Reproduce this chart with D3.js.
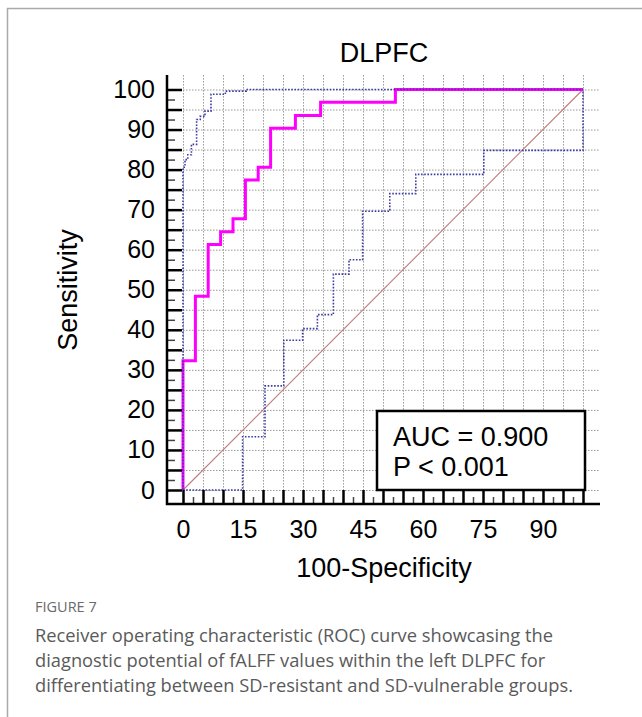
<!DOCTYPE html>
<html>
<head>
<meta charset="utf-8">
<script src="https://cdn.jsdelivr.net/npm/d3@7"></script>
<style>
  body { margin: 0; background: #fff; }
  svg text { font-family: "Liberation Sans", Arial, sans-serif; }
  .caption { font-family: "Open Sans", "Noto Sans", sans-serif; fill: #5a5a5a; }
</style>
</head>
<body>
<div id="chart-container"></div>
<script>
// ROC curve corners (100-specificity, sensitivity), drawn as step-before
const rocFpr = [0, 3.1, 6.3, 9.4, 12.5, 15.6, 18.8, 21.9, 28.1, 34.4, 53.1, 100];
const rocTpr = [0, 32.3, 48.4, 61.3, 64.5, 67.7, 77.4, 80.6, 90.3, 93.5, 96.8, 100];

// upper confidence bound
const upperFpr = [0, 0.5, 1.2, 2.1, 3.4, 4.3, 5.5, 7.0, 10.6, 15.8, 100];
const upperTpr = [0, 80.6, 82.5, 83.7, 86.3, 92.5, 93.3, 94.6, 98.8, 99.6, 100];

// lower confidence bound
const lowerFpr = [0, 14.9, 20.5, 25.2, 29.9, 33.6, 37.6, 41.5, 44.9, 51.7, 58.2, 75.2, 100, 100];
const lowerTpr = [0, 0, 13.3, 26.0, 37.4, 40.3, 43.8, 53.9, 57.5, 69.6, 74.0, 78.8, 84.8, 100];

const xLabels = [0, 15, 30, 45, 60, 75, 90];
const yLabels = [0, 10, 20, 30, 40, 50, 60, 70, 80, 90, 100];
const auc = "0.900";
const pText = "P < 0.001";

const captionTitle = "FIGURE 7";
const captionLines = [
  "Receiver operating characteristic (ROC) curve showcasing the",
  "diagnostic potential of fALFF values within the left DLPFC for",
  "differentiating between SD-resistant and SD-vulnerable groups."
];

const W = 642, H = 717;
const x = d3.scaleLinear().domain([0, 100]).range([183, 583]);
const y = d3.scaleLinear().domain([0, 100]).range([490, 89.5]);

const svg = d3.select("#chart-container")
  .append("svg")
  .attr("width", W)
  .attr("height", H);

// page frame
svg.append("path")
  .attr("d", `M7.5,${H} L7.5,8.5 L${W},8.5`)
  .attr("fill", "none")
  .attr("stroke", "#aaa")
  .attr("stroke-width", 1.5);

// grid
const gridVals = d3.range(0, 101, 5);
const grid = svg.append("g")
  .attr("stroke", "#999")
  .attr("stroke-width", 1)
  .attr("stroke-dasharray", "1.5,1.5");
grid.selectAll(".gv").data(gridVals).join("line")
  .attr("x1", d => x(d) + 0.5).attr("x2", d => x(d) + 0.5)
  .attr("y1", y(103.6)).attr("y2", y(0));
grid.selectAll(".gh").data(gridVals).join("line")
  .attr("y1", d => y(d) + 0.5).attr("y2", d => y(d) + 0.5)
  .attr("x1", x(0)).attr("x2", x(104.25));

// diagonal
svg.append("line")
  .attr("x1", x(0)).attr("y1", y(0))
  .attr("x2", x(100)).attr("y2", y(100))
  .attr("stroke", "#c07a7a")
  .attr("stroke-width", 1.1);

const step = d3.line()
  .x(d => x(d[0]))
  .y(d => y(d[1]))
  .curve(d3.curveStepBefore);

// ROC curve
svg.append("path")
  .datum(d3.zip(rocFpr, rocTpr))
  .attr("d", step)
  .attr("fill", "none")
  .attr("stroke", "#ff00ff")
  .attr("stroke-width", 3);

// confidence bounds
[[upperFpr, upperTpr], [lowerFpr, lowerTpr]].forEach(([fx, ty]) => {
  svg.append("path")
    .datum(d3.zip(fx, ty))
    .attr("d", step)
    .attr("fill", "none")
    .attr("stroke", "#3b3ba6")
    .attr("stroke-width", 1.6)
    .attr("stroke-dasharray", "1.6,1.6");
});

// AUC box
svg.append("rect")
  .attr("x", 377).attr("y", 411)
  .attr("width", 208).attr("height", 79)
  .attr("fill", "#fff")
  .attr("stroke", "#000")
  .attr("stroke-width", 2.5);
svg.append("text")
  .attr("x", 393).attr("y", 446)
  .attr("font-size", 27)
  .text(`AUC = ${auc}`);
svg.append("text")
  .attr("x", 393).attr("y", 476)
  .attr("font-size", 27)
  .text(pText);

// axes
const majorVals = d3.range(0, 101, 5);
const minorVals = d3.range(2.5, 100, 5);

const yAxisX = 167, xAxisY = 504;

const yMajor = svg.append("g")
  .attr("transform", `translate(${yAxisX},0)`)
  .call(d3.axisLeft(y).tickValues(majorVals).tickSize(-15).tickPadding(12)
    .tickFormat(d => yLabels.includes(d) ? d : ""));
const yMinor = svg.append("g")
  .attr("transform", `translate(${yAxisX},0)`)
  .call(d3.axisLeft(y).tickValues(minorVals).tickSize(-8).tickFormat(""));

const xMajor = svg.append("g")
  .attr("transform", `translate(0,${xAxisY})`)
  .call(d3.axisBottom(x).tickValues(majorVals).tickSize(-14).tickPadding(16.5)
    .tickFormat(d => xLabels.includes(d) ? d : ""));
const xMinor = svg.append("g")
  .attr("transform", `translate(0,${xAxisY})`)
  .call(d3.axisBottom(x).tickValues(minorVals).tickSize(-7).tickFormat(""));

[yMajor, yMinor, xMajor, xMinor].forEach(g => g.select(".domain").remove());
[yMajor, xMajor].forEach(g => {
  g.selectAll(".tick line").attr("stroke", "#000").attr("stroke-width", 2.5);
  g.selectAll(".tick text").attr("font-size", 25).attr("fill", "#000")
    .style("font-family", "'Liberation Sans', Arial, sans-serif");
});
[yMinor, xMinor].forEach(g => {
  g.selectAll(".tick line").attr("stroke", "#444").attr("stroke-width", 1.5);
});

// axis lines
svg.append("path")
  .attr("d", `M${yAxisX},${y(103.6)} L${yAxisX},${xAxisY} L${x(104.25)},${xAxisY}`)
  .attr("fill", "none")
  .attr("stroke", "#000")
  .attr("stroke-width", 2.5);

// titles
svg.append("text")
  .attr("x", 384).attr("y", 62)
  .attr("text-anchor", "middle")
  .attr("font-size", 27)
  .text("DLPFC");
svg.append("text")
  .attr("x", 384).attr("y", 577)
  .attr("text-anchor", "middle")
  .attr("font-size", 27)
  .text("100-Specificity");
svg.append("text")
  .attr("transform", "translate(77,290) rotate(-90)")
  .attr("text-anchor", "middle")
  .attr("font-size", 27)
  .text("Sensitivity");

// caption
svg.append("text")
  .attr("class", "caption")
  .attr("x", 35).attr("y", 612)
  .attr("font-size", 14.5)
  .style("fill", "#6a6a6a")
  .text(captionTitle);
svg.selectAll(".capline").data(captionLines).join("text")
  .attr("class", "caption")
  .attr("x", 35)
  .attr("y", (d, i) => 642 + i * 25)
  .attr("font-size", 18.3)
  .text(d => d);
</script>
</body>
</html>
